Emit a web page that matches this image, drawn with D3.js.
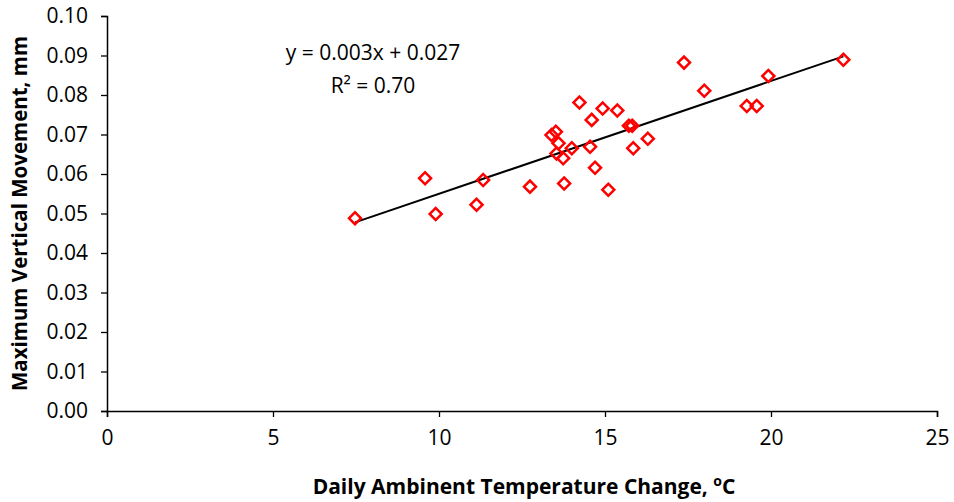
<!DOCTYPE html>
<html>
<head>
<meta charset="utf-8">
<script src="https://cdn.jsdelivr.net/npm/d3@7"></script>
<style>
  html, body { margin: 0; padding: 0; background: #fff; }
  svg text { font-family: "Open Sans", Lato, sans-serif; fill: #000; }
</style>
</head>
<body>
<div id="my_dataviz"></div>
<script>
// temperature change (deg C) and max vertical movement (mm)
const tempChange = [7.47, 9.58, 9.9, 11.13, 11.33, 12.74, 13.39, 13.52, 13.6, 13.54,
  13.74, 13.77, 14.0, 14.23, 14.55, 14.6, 14.7, 14.93, 15.1, 15.37,
  15.72, 15.82, 15.85, 16.29, 17.38, 17.99, 19.27, 19.57, 19.92, 22.18];
const movement = [0.0488, 0.0589, 0.0499, 0.0522, 0.0585, 0.0568, 0.0699, 0.0707, 0.0678, 0.0652,
  0.0640, 0.0576, 0.0665, 0.0781, 0.0669, 0.0737, 0.0616, 0.0766, 0.0560, 0.0761,
  0.0722, 0.0722, 0.0665, 0.0689, 0.0882, 0.0811, 0.0772, 0.0772, 0.0848, 0.0889];
const xTicks = [0, 5, 10, 15, 20, 25];
const yTicks = [0, 0.01, 0.02, 0.03, 0.04, 0.05, 0.06, 0.07, 0.08, 0.09, 0.10];
const equationLines = ["y = 0.003x + 0.027", "R² = 0.70"];

const width = 954, height = 502;
const margin = {top: 16, right: 17, bottom: 91, left: 107};

const svg = d3.select("#my_dataviz").append("svg")
  .attr("width", width)
  .attr("height", height);

const x = d3.scaleLinear().domain([0, 25]).range([margin.left, width - margin.right]);
const y = d3.scaleLinear().domain([0, 0.10]).range([height - margin.bottom, margin.top]);

// axes
svg.append("g")
  .attr("transform", `translate(0,${y(0)})`)
  .call(d3.axisBottom(x).tickValues(xTicks).tickSize(6).tickPadding(13).tickFormat(d3.format("d")))
  .call(g => g.select(".domain").attr("stroke-width", 1.5))
  .call(g => g.selectAll(".tick line").attr("stroke-width", 1.3))
  .call(g => g.selectAll("text").style("font-size", "21px"));

svg.append("g")
  .attr("transform", `translate(${x(0)},0)`)
  .call(d3.axisLeft(y).tickValues(yTicks).tickSize(6).tickPadding(13).tickFormat(d3.format(".2f")))
  .call(g => g.select(".domain").attr("stroke-width", 1.5))
  .call(g => g.selectAll(".tick line").attr("stroke-width", 1.3))
  .call(g => g.selectAll("text").style("font-size", "21px"));

// axis titles
svg.append("text")
  .attr("x", 524)
  .attr("y", 494)
  .attr("text-anchor", "middle")
  .style("font-size", "21px")
  .style("font-weight", "bold")
  .html('Daily Ambinent Temperature Change, <tspan dy="-8" font-size="14px">o</tspan><tspan dy="8">C</tspan>');

svg.append("text")
  .attr("transform", `translate(27,${(y(0) + y(0.10)) / 2}) rotate(-90)`)
  .attr("text-anchor", "middle")
  .style("font-size", "20.5px")
  .style("font-weight", "bold")
  .text("Maximum Vertical Movement, mm");

// linear trend line (least squares over the points)
const points = tempChange.map((t, i) => ({t: t, m: movement[i]}));
const mx = d3.mean(tempChange), my = d3.mean(movement);
const slope = d3.sum(points, p => (p.t - mx) * (p.m - my)) / d3.sum(points, p => (p.t - mx) ** 2);
const intercept = my - slope * mx;
const [tMin, tMax] = d3.extent(tempChange);

svg.append("line")
  .attr("x1", x(tMin)).attr("y1", y(intercept + slope * tMin))
  .attr("x2", x(tMax)).attr("y2", y(intercept + slope * tMax))
  .attr("stroke", "#000")
  .attr("stroke-width", 2);

// markers
const diamond = d3.symbol().type(d3.symbolSquare).size(72);
svg.selectAll("path.pt")
  .data(points)
  .join("path")
  .attr("class", "pt")
  .attr("d", diamond)
  .attr("transform", p => `translate(${x(p.t)},${y(p.m)}) rotate(45)`)
  .attr("fill", "none")
  .attr("stroke", "#ff0000")
  .attr("stroke-width", 2.5);

// equation
svg.selectAll("text.eq")
  .data(equationLines)
  .join("text")
  .attr("class", "eq")
  .attr("x", 373)
  .attr("y", (d, i) => 60 + i * 33)
  .attr("text-anchor", "middle")
  .style("font-size", "21px")
  .text(d => d);
</script>
</body>
</html>
